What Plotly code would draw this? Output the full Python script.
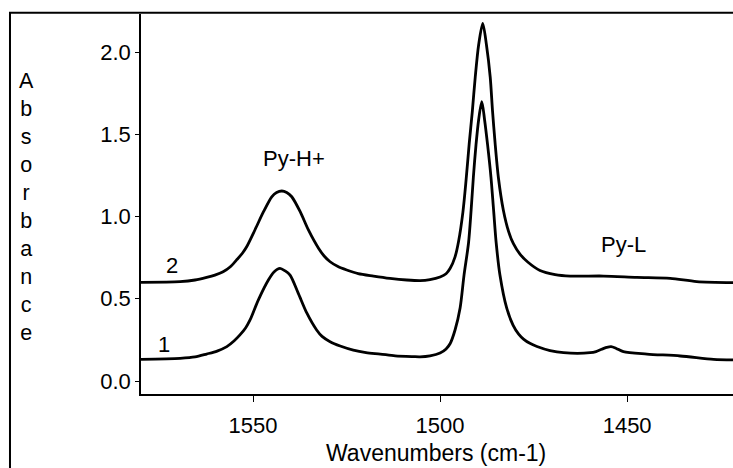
import plotly.graph_objects as go

wn_2 = [1579.95, 1569.5, 1565.5, 1562.4, 1560.2, 1558.0, 1556.15, 1554.4, 1552.9, 1551.7,
        1549.5, 1547.2, 1545.0, 1543.7, 1542.3, 1541.0, 1539.65, 1537.4, 1535.2, 1532.5,
        1531.0, 1529.4, 1527.3, 1524.95, 1521.9, 1517.8, 1513.4, 1508.9, 1505.35,
        1502.7, 1500.0, 1498.4, 1497.3, 1496.0, 1495.05, 1493.9, 1493.05, 1492.2, 1491.4, 1490.6,
        1489.7, 1488.6, 1487.6, 1486.6, 1486.0, 1485.3, 1484.4, 1483.1, 1481.7, 1480.4,
        1478.6, 1476.5, 1473.3, 1469.25, 1465.2, 1456.3, 1447.4, 1438.5, 1431.4, 1421.7]
abs_2 = [0.600, 0.604, 0.614, 0.630, 0.644, 0.664, 0.693, 0.736, 0.775, 0.816,
         0.918, 1.029, 1.120, 1.146, 1.155, 1.146, 1.120, 1.029, 0.918, 0.807,
         0.760, 0.725, 0.696, 0.675, 0.653, 0.638, 0.624, 0.614, 0.610,
         0.616, 0.632, 0.652, 0.685, 0.755, 0.850, 1.027, 1.222, 1.447, 1.635, 1.848,
         2.043, 2.174, 2.043, 1.848, 1.647, 1.447, 1.234, 1.040, 0.910, 0.835,
         0.770, 0.722, 0.672, 0.647, 0.638, 0.638, 0.630, 0.624, 0.604, 0.598]

wn_1 = [1579.95, 1569.5, 1565.5, 1562.4, 1559.6, 1557.0, 1555.1, 1553.5, 1552.0, 1550.8,
        1548.6, 1545.9, 1544.4, 1542.8, 1541.4, 1540.1, 1537.9, 1535.6, 1533.0, 1531.55,
        1529.4, 1526.7, 1523.2, 1519.8, 1516.0, 1512.0, 1507.1, 1505.35,
        1502.7, 1500.0, 1498.4, 1497.3, 1496.0, 1494.65, 1493.6, 1492.4, 1491.7, 1491.1,
        1490.4, 1489.7, 1488.85, 1488.1, 1487.3, 1486.4, 1485.7, 1485.0, 1484.0, 1482.2,
        1480.5, 1479.0, 1477.7, 1476.0, 1474.1, 1470.6, 1467.0, 1459.9, 1458.3, 1456.8,
        1455.5, 1454.3, 1452.9, 1451.0, 1444.7, 1435.8, 1426.9, 1421.7]
abs_1 = [0.132, 0.138, 0.146, 0.164, 0.182, 0.209, 0.243, 0.280, 0.322, 0.371,
         0.492, 0.614, 0.663, 0.685, 0.669, 0.644, 0.533, 0.412, 0.310, 0.271,
         0.239, 0.213, 0.188, 0.173, 0.164, 0.153, 0.148, 0.147,
         0.153, 0.170, 0.195, 0.228, 0.310, 0.444, 0.644, 0.839, 1.040, 1.240,
         1.435, 1.587, 1.698, 1.587, 1.435, 1.240, 1.040, 0.839, 0.644, 0.444,
         0.340, 0.285, 0.255, 0.229, 0.210, 0.185, 0.172, 0.172, 0.179, 0.193,
         0.204, 0.209, 0.198, 0.178, 0.164, 0.152, 0.132, 0.128]

x_ticks = [1550, 1500, 1450]
y_ticks = [0.0, 0.5, 1.0, 1.5, 2.0]
x_title = "Wavenumbers (cm-1)"
y_title = "Absorbance"

FONT = "Liberation Sans, Arial, sans-serif"

fig = go.Figure()
for wn, ab in [(wn_1, abs_1), (wn_2, abs_2)]:
    fig.add_trace(go.Scatter(x=wn, y=ab, mode="lines",
                             line=dict(color="black", width=2.8, shape="spline", smoothing=0.8),
                             showlegend=False, hoverinfo="skip"))

annos = [
    dict(x=1539.0, y=1.351, text="Py-H+"),
    dict(x=1450.9, y=0.830, text="Py-L"),
    dict(x=1571.7, y=0.705, text="2"),
    dict(x=1573.8, y=0.219, text="1"),
]
for a in annos:
    fig.add_annotation(x=a["x"], y=a["y"], text=a["text"], showarrow=False,
                       xanchor="center", yanchor="middle",
                       font=dict(family=FONT, size=22, color="black"))

fig.add_annotation(xref="paper", yref="paper", x=-0.1926, y=0.493,
                   text="<br>".join(list(y_title)), showarrow=False,
                   xanchor="center", yanchor="middle",
                   font=dict(family=FONT, size=21.5, color="black"))
fig.add_annotation(xref="paper", yref="paper", x=0.4983, y=-0.155,
                   text=x_title, showarrow=False, xanchor="center", yanchor="middle",
                   font=dict(family=FONT, size=23, color="black"))

# outer frame (cut by image edges on right and bottom)
fig.add_shape(type="rect", xref="paper", yref="paper",
              x0=-0.2213, x1=1.2, y0=-0.4, y1=1.003,
              line=dict(color="black", width=2), layer="above")

fig.update_layout(
    width=733, height=468,
    margin=dict(l=141, r=0, t=14, b=74),
    paper_bgcolor="white", plot_bgcolor="white",
    font=dict(family=FONT, size=22, color="black"),
    xaxis=dict(range=[1579.95, 1421.7], tickvals=x_ticks, ticks="outside", ticklen=6,
               tickwidth=1, tickcolor="black", showgrid=False, zeroline=False,
               showline=True, linecolor="black", linewidth=1.5, ticklabelstandoff=5,
               tickfont=dict(family=FONT, size=22)),
    yaxis=dict(range=[-0.079, 2.231], tickvals=y_ticks, tickformat=".1f", ticks="outside",
               ticklen=4, tickwidth=1, tickcolor="black", showgrid=False, zeroline=False,
               showline=True, linecolor="black", linewidth=1.5,
               tickfont=dict(family=FONT, size=22)),
)

fig.write_html("out.html")
